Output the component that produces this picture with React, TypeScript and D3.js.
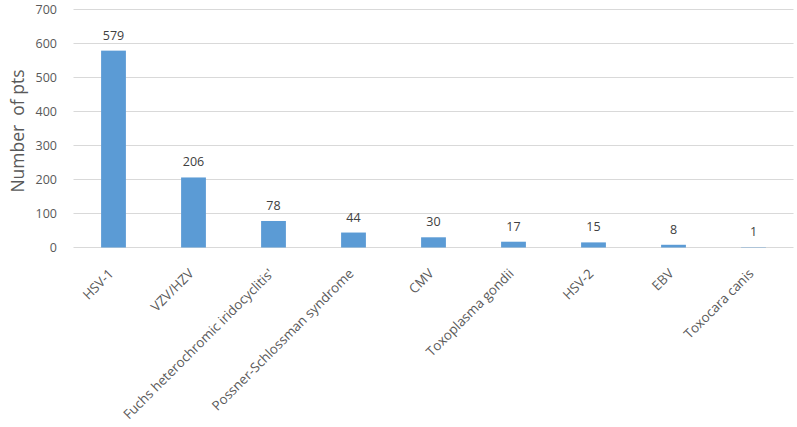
import React from "react";
import * as d3 from "d3";

const categories = [
  "HSV-1",
  "VZV/HZV",
  "Fuchs heterochromic iridocyclitis'",
  "Possner-Schlossman syndrome",
  "CMV",
  "Toxoplasma gondii",
  "HSV-2",
  "EBV",
  "Toxocara canis",
];
const values = [579, 206, 78, 44, 30, 17, 15, 8, 1];
const yTicks = [0, 100, 200, 300, 400, 500, 600, 700];

const W = 797;
const H = 427;
const left = 73.5;
const right = 793.5;
const top = 9.5;
const bottom = 247.5;
const font = "'Open Sans', 'Noto Sans', sans-serif";
const grey = "#595959";

export default function App() {
  const x = d3.scaleBand<string>().domain(categories).range([left, right]).paddingInner(0.69).paddingOuter(0.345);
  const y = d3.scaleLinear().domain([0, 700]).range([bottom, top]);
  return (
    <svg width={W} height={H} style={{ position: "absolute", left: 0, top: 0, background: "#fff" }}>
      {yTicks.map((t) => (
        <g key={t}>
          <line x1={left} x2={right} y1={y(t)} y2={y(t)} stroke="#d9d9d9" strokeWidth={1} />
          <text x={57} y={y(t)} dy="0.35em" textAnchor="end" fontFamily={font} fontSize={12.5} fill={grey}>
            {t}
          </text>
        </g>
      ))}
      {categories.map((c, i) => (
        <g key={c}>
          <rect x={x(c)} y={y(values[i])} width={x.bandwidth()} height={bottom - y(values[i])} fill="#5B9BD5" />
          <text x={(x(c) as number) + x.bandwidth() / 2} y={y(values[i]) - 11} textAnchor="middle" fontFamily={font} fontSize={12.5} fill="#404040">
            {values[i]}
          </text>
          <text
            transform={`translate(${(x(c) as number) + x.bandwidth() / 2 + 1},${bottom + 27}) rotate(-45)`}
            textAnchor="end"
            fontFamily={font}
            fontSize={13.3}
            fill={grey}
          >
            {c}
          </text>
        </g>
      ))}
      <text
        transform={`translate(24,${131}) rotate(-90)`}
        textAnchor="middle"
        fontFamily={font}
        fontSize={17.5}
        fill={grey}
        style={{ whiteSpace: "pre" }}
      >
        {"Number  of pts"}
      </text>
    </svg>
  );
}
